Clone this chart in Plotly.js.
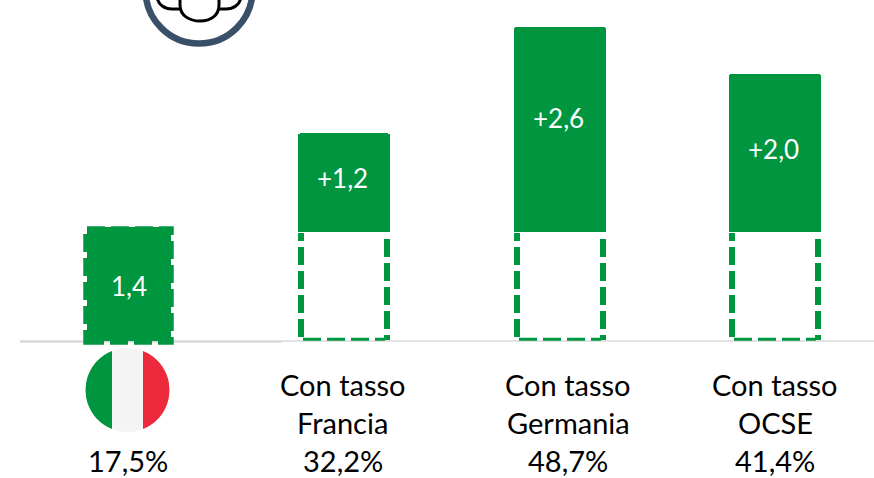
<!DOCTYPE html>
<html><head><meta charset="utf-8">
<script src="https://cdn.plot.ly/plotly-3.0.1.min.js"></script>
<style>html,body{margin:0;padding:0;background:#fff;overflow:hidden}#c{width:874px;height:478px}</style>
</head><body><div id="c"></div>
<script>
// Data
const categories = ["Italia", "Con tasso Francia", "Con tasso Germania", "Con tasso OCSE"];
const baseValues = [1.44, 1.38, 1.38, 1.38];
const extraValues = [0, 1.25, 2.6, 2.0];
const barLabels = ["1,4", "+1,2", "+2,6", "+2,0"];
const nameLine1 = ["", "Con tasso", "Con tasso", "Con tasso"];
const nameLine2 = ["", "Francia", "Germania", "OCSE"];
const rates = ["17,5%", "32,2%", "48,7%", "41,4%"];

// Layout constants (pixels / axis mapping)
const W = 874, H = 478, BASE = 341, PXU = 79;
const centers = [128.5, 344, 560, 775];
const textCenters = [128, 342.5, 568, 775];
const labelCenters = [128.5, 342.5, 558.5, 773.5];
const barLabelY = [286, 178, 118, 149];
const barWidths = [84, 92, 92, 92];
const GREEN = "#009640", FS = 26, FSB = 29;
const py = p => (BASE - p) / PXU;
const FONT = "Lato, Carlito, sans-serif";
const DASH = "18px,6px";

const traces = [
  {type:"bar", x:centers, y:baseValues, width:barWidths, name:"Base",
   marker:{color:[GREEN,"rgba(0,0,0,0)","rgba(0,0,0,0)","rgba(0,0,0,0)"], line:{width:0}},
   customdata:categories, hoverinfo:"skip"},
  {type:"bar", x:centers, y:extraValues, width:barWidths, name:"Extra",
   marker:{color:GREEN, line:{width:0}}, hoverinfo:"skip"}
];

const shapes = [];
// baseline: heavier under the first part, as in the picture
shapes.push({type:"line", xref:"x", yref:"y", x0:20, x1:282, y0:py(341.5), y1:py(341.5), layer:"below",
             line:{color:"#d9d9d9", width:2.5}});
shapes.push({type:"line", xref:"x", yref:"y", x0:282, x1:W, y0:py(341), y1:py(341), layer:"below",
             line:{color:"#d9d9d9", width:1.5}});
// dashed outlines
const seglineP = (x0,p0,x1,p1,w)=>shapes.push({type:"line",xref:"x",yref:"y",layer:"above",
   x0:x0,x1:x1,y0:py(p0),y1:py(p1),line:{color:GREEN,width:w,dash:DASH}});
// first bar: all four sides, green on green with white gaps
shapes.push({type:"rect", xref:"x", yref:"y", layer:"above",
    x0:centers[0]-42.5, x1:centers[0]+42.5, y0:py(342), y1:py(229),
    fillcolor:"rgba(0,0,0,0)", line:{color:GREEN, width:5.5, dash:DASH}});
// the other bars: left side rises, right side falls, thin bottom edge
centers.slice(1).forEach(c=>{
  seglineP(c-43,337,c-43,233,6);
  seglineP(c+43,239,c+43,340,6);
  seglineP(c-41,339.3,c+41,339.3,3);
});
// polygon helper for circle parts
function seg(cx,cy,r,xa,xb){
  let up=[],dn=[];
  for(let k=0;k<=48;k++){
    const x=xa+(xb-xa)*k/48, d=Math.sqrt(Math.max(0,r*r-(x-cx)*(x-cx)));
    up.push([x,py(cy-d)]); dn.unshift([x,py(cy+d)]);
  }
  return "M"+up.concat(dn).map(p=>p[0].toFixed(2)+","+p[1].toFixed(4)).join("L")+"Z";
}
function addSeg(cx,cy,r,a,b,color){
  shapes.push({type:"path", xref:"x", yref:"y", path:seg(cx,cy,r,a,b), fillcolor:color, line:{width:0}});
}
addSeg(127.5,390,42,85.5,112,GREEN);
addSeg(127.5,390,42,112,143,"#f4f4f4");
addSeg(127.5,390,42,143,169.5,"#ec2a3c");

// icon: ring and people outline
shapes.push({type:"circle", xref:"x", yref:"y", x0:199-53.5, x1:199+53.5, y0:py(-10+53.5), y1:py(-10-53.5),
    fillcolor:"#ffffff", line:{color:"#3a5068",width:6.5}});
function curve(pts){
  return pts.map(s=>{
    if(typeof s==="string") return s;
    return s[0].toFixed(1)+","+py(s[1]).toFixed(4);
  }).join(" ");
}
const person = pts => shapes.push({type:"path", xref:"x", yref:"y", path:curve(pts),
    fillcolor:"rgba(0,0,0,0)", line:{color:"#000000",width:3}});
person(["M",[157,-3],"C",[158,5],[165,9],[172,9],"L",[181,9]]);
person(["M",[241,-3],"C",[240,5],[233,9],[226,9],"L",[218,9]]);
person(["M",[180,-5],"L",[180,5],"C",[180,16],[190,21],[200,21],"C",[210,21],[219,16],[219,5],"L",[219,-5]]);

const annotations = [];
const note=(x,y,t,color,size)=>annotations.push({xref:"x",yref:"y",x:x,y:py(y),text:t,showarrow:false,
  xanchor:"center",yanchor:"middle",font:{family:FONT,size:size,color:color}});
centers.forEach((c,i)=>{
  note(labelCenters[i],barLabelY[i],barLabels[i],"#ffffff",FS);
  if(nameLine1[i]) note(textCenters[i],384,nameLine1[i],"#000000",FSB);
  if(nameLine2[i]) note(textCenters[i],422,nameLine2[i],"#000000",FSB);
  note(textCenters[i],460,rates[i],"#000000",FSB);
});

Plotly.newPlot("c",traces,{
  width:W,height:H,margin:{l:0,r:0,t:0,b:0},
  paper_bgcolor:"#fff",plot_bgcolor:"#fff",
  barmode:"stack",barcornerradius:3,showlegend:false,
  xaxis:{range:[0,W],visible:false,fixedrange:true},
  yaxis:{range:[py(H),py(0)],visible:false,fixedrange:true},
  shapes,annotations
},{staticPlot:true,displayModeBar:false});
</script></body></html>
